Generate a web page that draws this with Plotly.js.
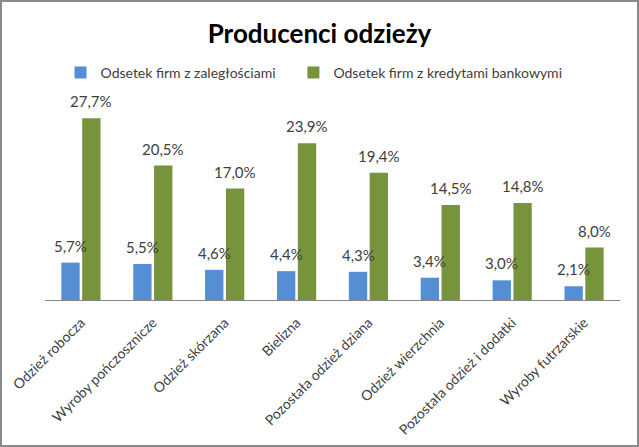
<!DOCTYPE html>
<html><head><meta charset="utf-8">
<script src="https://cdn.plot.ly/plotly-3.0.1.min.js"></script>
<style>
html,body{margin:0;padding:0;background:#fff;}
#wrap{width:639px;height:447px;box-sizing:border-box;border:2px solid #8a8a8a;position:relative;overflow:hidden;}
#chart{position:absolute;left:-2px;top:-2px;width:639px;height:447px;}
</style></head>
<body><div id="wrap"><div id="chart"></div></div>
<script>
const categories = ["Odzież robocza","Wyroby pończosznicze","Odzież skórzana","Bielizna","Pozostała odzież dziana","Odzież wierzchnia","Pozostała odzież i dodatki","Wyroby futrzarskie"];
const seriesNames = ["Odsetek firm z zaległościami","Odsetek firm z kredytami bankowymi"];
const arrears = [5.7,5.5,4.6,4.4,4.3,3.4,3.0,2.1];
const loans = [27.7,20.5,17.0,23.9,19.4,14.5,14.8,8.0];

const font = "Lato, 'Open Sans', sans-serif";
const W = 639, H = 447, ML = 45, MR = 19;
const bargap = 0.42;
const catW = (W - ML - MR) / categories.length;
const slot = catW * (1 - bargap) / 2;

const data = [
  {type:'bar', name:seriesNames[0], x:categories, y:arrears, marker:{color:'#558ED5'}, hoverinfo:'skip', legend:'legend'},
  {type:'bar', name:seriesNames[1], x:categories, y:loans, marker:{color:'#77933C'}, hoverinfo:'skip', legend:'legend2'}
];
const fmt = v => v.toFixed(1).replace('.', ',') + '%';
const annotations = [];
[arrears, loans].forEach((vals, s) => {
  vals.forEach((v, i) => {
    annotations.push({x:categories[i], y:v, xref:'x', yref:'y', text:fmt(v), showarrow:false,
      xanchor:'center', yanchor:'bottom', yshift:6, xshift:(s === 0 ? -1 : 1) * slot / 2,
      font:{family:font, size:15, color:'#404040'}});
  });
});
const legendStyle = {orientation:'h', xanchor:'left', y:1.136, yanchor:'middle', font:{family:font,size:14,color:'#404040'}, itemwidth:30, bgcolor:'rgba(0,0,0,0)'};
const layout = {
  width:W, height:H,
  margin:{l:ML,r:MR,t:100,b:147},
  paper_bgcolor:'#fff', plot_bgcolor:'#fff',
  title:{text:'<b>Producenci odzieży</b>', font:{family:font,size:26,color:'#000'}, x:0.5, xanchor:'center', y:0.925, yanchor:'middle'},
  showlegend:true,
  legend:Object.assign({}, legendStyle, {x:0.027}),
  legend2:Object.assign({}, legendStyle, {x:0.432}),
  barmode:'group', bargap:bargap, bargroupgap:0.12,
  annotations: annotations,
  xaxis:{tickangle:-45, showline:true, linecolor:'#868686', linewidth:1, ticks:'', ticklabelstandoff:8, tickfont:{family:font,size:14,color:'#404040'}, automargin:false},
  yaxis:{visible:false, range:[0,30.5], showgrid:false, zeroline:false}
};
Plotly.newPlot('chart', data, layout, {displayModeBar:false, staticPlot:true});
</script></body></html>
